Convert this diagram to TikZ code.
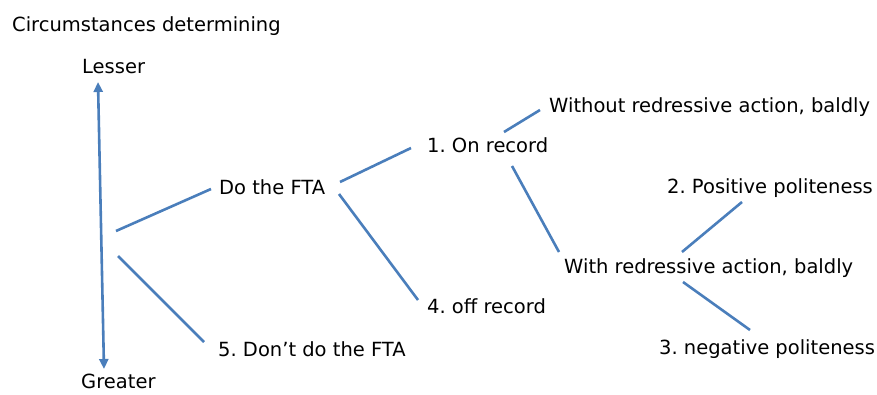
\documentclass[tikz,border=0pt]{standalone}
\usepackage{fontspec}
\setmainfont{DejaVu Sans}
\usetikzlibrary{arrows.meta}
\definecolor{linkblue}{HTML}{4A7EBB}
\tikzset{
  lbl/.style={anchor=base west, inner sep=0pt, font=\fontsize{19.5}{22}\selectfont\frenchspacing, text=black},
  link/.style={draw=linkblue, line width=2.6pt},
  scalearrow/.style={link, {Triangle[width=9pt,length=10pt]}-{Triangle[width=9pt,length=10pt]}}
}
\begin{document}
\begin{tikzpicture}[x=1pt,y=-1pt]
  \useasboundingbox (0,0) rectangle (877,394);
  % labels
  \node[lbl] (title) at (12,31) {Circumstances determining};
  \node[lbl] (lesser) at (82,73) {Lesser};
  \node[lbl] (greater) at (81,388) {Greater};
  \node[lbl] (do) at (219,194) {Do the FTA};
  \node[lbl] (dont) at (218,356) {5. Don’t do the FTA};
  \node[lbl] (on) at (427,152) {1. On record};
  \node[lbl] (off) at (427,313) {4. off record};
  \node[lbl] (without) at (549,112) {Without redressive action, baldly};
  \node[lbl] (with) at (564,273) {With redressive action, baldly};
  \node[lbl] (pos) at (667,193) {2. Positive politeness};
  \node[lbl] (neg) at (659,354) {3. negative politeness};
  % end points of the branches
  \coordinate (top) at (98,82);
  \coordinate (bottom) at (104,369);
  \coordinate (r0a) at (116,231);  \coordinate (r0b) at (211,189);
  \coordinate (r1a) at (118,256);  \coordinate (r1b) at (204,342);
  \coordinate (d0a) at (340,182);  \coordinate (d0b) at (411,148);
  \coordinate (d1a) at (339,194);  \coordinate (d1b) at (418,300);
  \coordinate (o0a) at (504,132);  \coordinate (o0b) at (540,110);
  \coordinate (o1a) at (512,166);  \coordinate (o1b) at (559,252);
  \coordinate (w0a) at (682,252);  \coordinate (w0b) at (742,202);
  \coordinate (w1a) at (683,282);  \coordinate (w1b) at (750,330);
  % scale of circumstances
  \draw[scalearrow] (top) -- (bottom);
  % tree of strategies
  \draw[link] (r0a) -- (r0b);
  \draw[link] (r1a) -- (r1b);
  \draw[link] (d0a) -- (d0b);
  \draw[link] (d1a) -- (d1b);
  \draw[link] (o0a) -- (o0b);
  \draw[link] (o1a) -- (o1b);
  \draw[link] (w0a) -- (w0b);
  \draw[link] (w1a) -- (w1b);
\end{tikzpicture}
\end{document}
